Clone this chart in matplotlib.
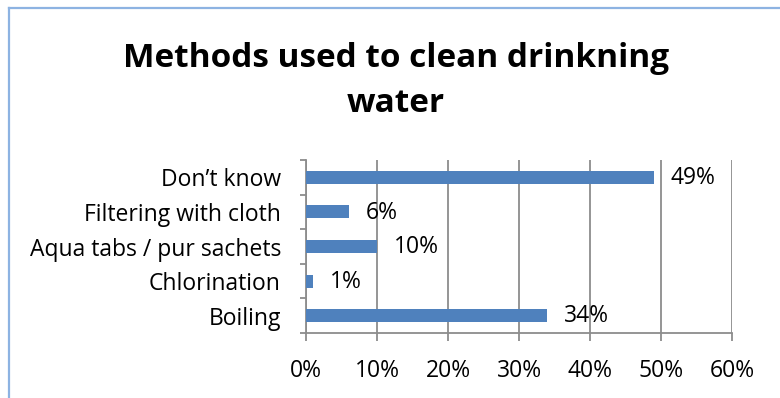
import matplotlib
matplotlib.use("Agg")
import matplotlib.pyplot as plt
from matplotlib.lines import Line2D
from matplotlib.ticker import FixedLocator, PercentFormatter

categories = ["Boiling", "Chlorination", "Aqua tabs / pur sachets",
              "Filtering with cloth", "Don\u2019t know"]
values = [34, 1, 10, 6, 49]
value_labels = ["34%", "1%", "10%", "6%", "49%"]
x_ticks = [0, 10, 20, 30, 40, 50, 60]

plt.rcParams["font.family"] = ["Open Sans", "DejaVu Sans"]

W, H = 780, 398
fig = plt.figure(figsize=(W / 100, H / 100), dpi=100)
fig.patch.set_facecolor("white")

# chart-area frame (left and top edges visible)
frame_col = "#8DB3E2"
fig.add_artist(Line2D([9 / W, 9 / W], [0, 1 - 8 / H], transform=fig.transFigure,
                      color=frame_col, lw=1.6))
fig.add_artist(Line2D([9 / W, 1], [1 - 8 / H, 1 - 8 / H], transform=fig.transFigure,
                      color=frame_col, lw=1.6))

left, right, top, bottom = 306, 732, 160, 333
ax = fig.add_axes([left / W, 1 - bottom / H, (right - left) / W, (bottom - top) / H])

ypos = list(range(len(categories)))
ax.barh(ypos, values, height=0.38, color="#4F81BD", zorder=3)

fs = 16.5
for y, v, lab in zip(ypos, values, value_labels):
    ax.annotate(lab, xy=(v, y), xytext=(12.2, -0.5), textcoords="offset points",
                ha="left", va="center", fontsize=fs, color="black", zorder=4)

ax.set_xlim(0, 60)
ax.set_ylim(-0.5, len(categories) - 0.5)

ax.xaxis.set_major_locator(FixedLocator(x_ticks))
ax.xaxis.set_major_formatter(PercentFormatter(decimals=0))
ax.set_yticks(ypos)
ax.set_yticklabels(categories)
ax.yaxis.set_minor_locator(FixedLocator([i - 0.5 for i in range(len(categories) + 1)]))

grid_col = "#8C8C8C"
ax.grid(axis="x", color=grid_col, lw=1.3, zorder=0)
ax.set_axisbelow(True)

for s in ["top", "right"]:
    ax.spines[s].set_visible(False)
for s in ["left", "bottom"]:
    ax.spines[s].set_color(grid_col)
    ax.spines[s].set_linewidth(1.3)

ax.tick_params(axis="x", which="major", length=6, width=1.3, color=grid_col,
               labelsize=fs, pad=13)
ax.tick_params(axis="y", which="major", length=0, labelsize=fs, pad=18)
ax.tick_params(axis="y", which="minor", length=4.5, width=1.3, color=grid_col)

fig.text(396 / W, 1 - 81 / H, "Methods used to clean drinkning\nwater",
         ha="center", va="center", fontsize=24, fontweight="bold",
         linespacing=1.48, color="black")

fig.savefig("out.png", dpi=100, facecolor="white")
